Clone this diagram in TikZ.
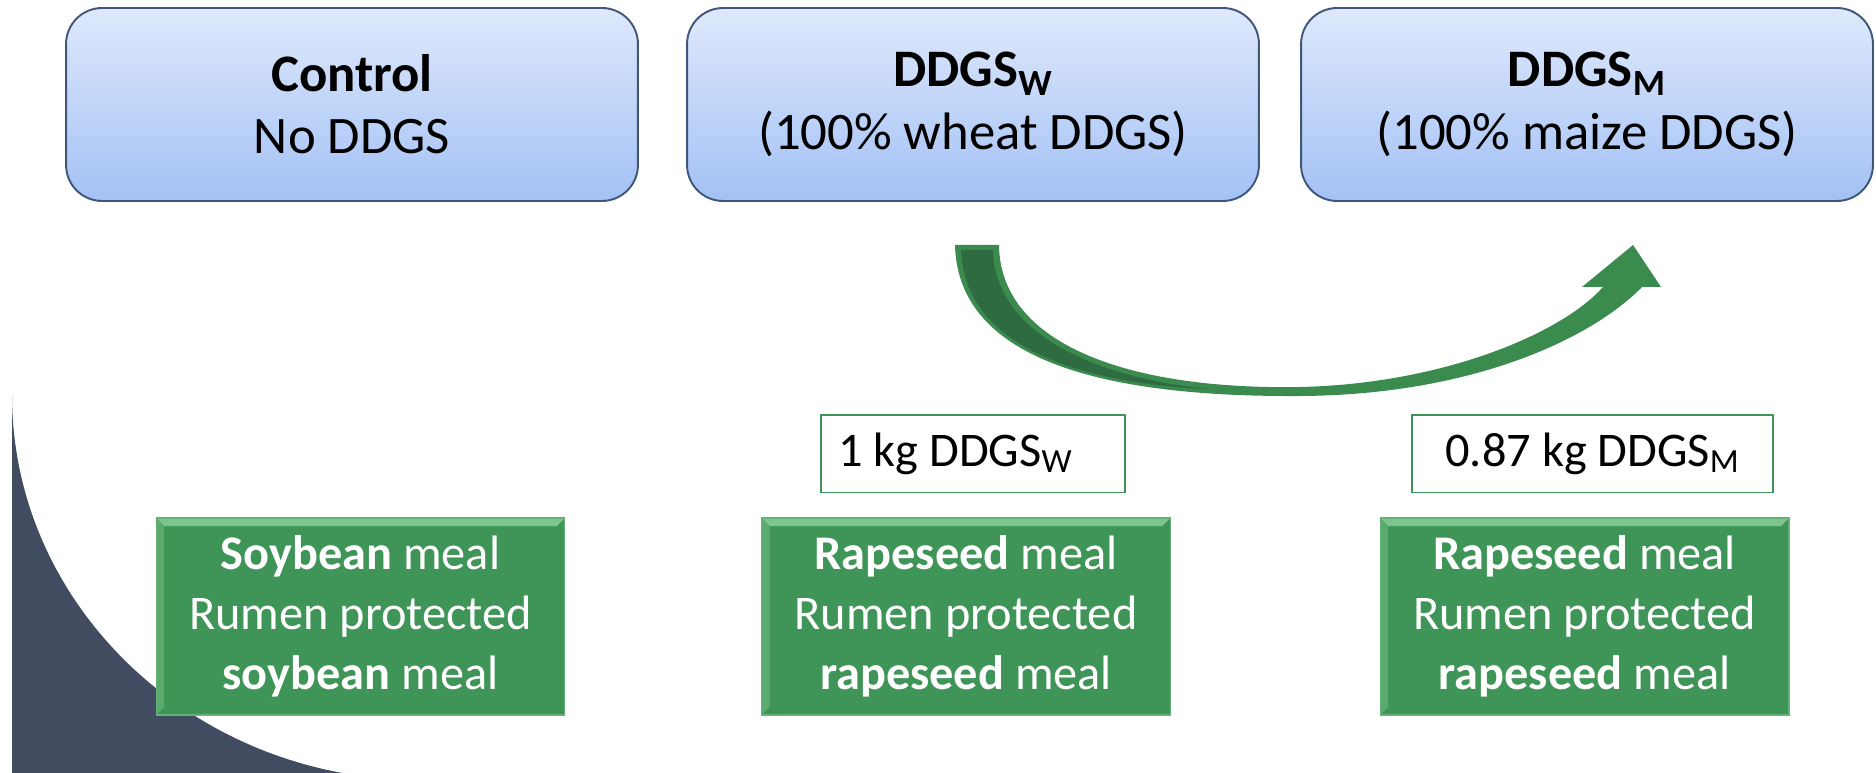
\documentclass[tikz,border=0pt]{standalone}
\usepackage{fontspec}
\setmainfont{Carlito}
\usepackage{xcolor}
\usepackage{tikz}
\usetikzlibrary{positioning}
\definecolor{boxedge}{HTML}{41577A}
\definecolor{boxtop}{HTML}{DFE9FC}
\definecolor{boxbot}{HTML}{A3C1F5}
\definecolor{feedgreen}{HTML}{3F9557}
\definecolor{feedlight}{HTML}{7CC68C}
\definecolor{arrowgreen}{HTML}{3B8B4F}
\definecolor{arrowdark}{HTML}{2F6B40}
\definecolor{slate}{HTML}{414C61}
\newcommand{\bigtxt}{\fontsize{30}{35.5}\selectfont}
\tikzset{
  topbox/.style  = {rectangle, draw=boxedge, line width=1.1pt, top color=boxtop, bottom color=boxbot,
                    rounded corners=0.72cm, minimum width=11.44cm, minimum height=3.86cm,
                    align=center, font=\bigtxt},
  feedbox/.style = {rectangle, draw=feedlight!60!feedgreen, line width=0.6pt, fill=feedgreen,
                    minimum width=8.18cm, minimum height=3.94cm, align=center,
                    text=white, font=\fontsize{27.5}{34}\selectfont,
                    path picture={\fill[feedlight]
                      (path picture bounding box.north west) -- (path picture bounding box.north east)
                      -- ([xshift=-0.16cm,yshift=-0.16cm]path picture bounding box.north east)
                      -- ([xshift=0.16cm,yshift=-0.16cm]path picture bounding box.north west) -- cycle;
                      \fill[feedlight!45!feedgreen]
                      (path picture bounding box.north west) -- (path picture bounding box.south west)
                      -- ([xshift=0.16cm,yshift=0.16cm]path picture bounding box.south west)
                      -- ([xshift=0.16cm,yshift=-0.16cm]path picture bounding box.north west) -- cycle;}},
  kgbox/.style   = {rectangle, draw=feedgreen, line width=0.9pt, fill=white,
                    minimum height=1.56cm, align=center, font=\fontsize{27.5}{34}\selectfont},
}
\begin{document}
\begin{tikzpicture}[x=0.02cm, y=-0.02cm]
    \useasboundingbox (0,0) rectangle (1876,773);

    %% Background swoosh at the lower left
    \fill[slate] (12,395) .. controls (12,607) and (195,780) .. (420,780) -- (12,780) -- cycle;

    %% Diet groups
    \node[topbox] (control) at (352,104.5)  {\textbf{Control}\\No DDGS};
    \node[topbox] (wheat)   at (973,104.5)  {\textbf{DDGS\textsubscript{W}}\\(100\% wheat DDGS)};
    \node[topbox] (maize)   at (1587,104.5) {\textbf{DDGS\textsubscript{M}}\\(100\% maize DDGS)};

    %% Protein sources
    \node[feedbox] (soy)   at (360.5,616.5)  {\textbf{Soybean} meal\\Rumen protected\\\textbf{soybean} meal};
    \node[feedbox] (rapeW) at (966,616.5)    {\textbf{Rapeseed} meal\\Rumen protected\\\textbf{rapeseed} meal};
    \node[feedbox] (rapeM) at (1584.5,616.5) {\textbf{Rapeseed} meal\\Rumen protected\\\textbf{rapeseed} meal};

    %% Amounts
    \node[kgbox, minimum width=6.08cm, above=0.48cm of rapeW, xshift=0.14cm] (kgW) {1 kg DDGS\textsubscript{W}\hspace{0.7cm}};
    \node[kgbox, minimum width=7.22cm, above=0.48cm of rapeM, xshift=0.16cm] (kgM) {0.87 kg DDGS\textsubscript{M}};

    %% Substitution arrow
    \fill[arrowgreen] (955,245) .. controls (958,370) and (1130,397) .. (1300,396)
        .. controls (1470,395) and (1590,340) .. (1642,287) -- (1661,287) -- (1633,245)
        -- (1582,287) -- (1603,287) .. controls (1560,335) and (1440,384) .. (1300,387)
        .. controls (1130,390) and (1000,345) .. (999,245) -- cycle;
    \fill[arrowdark] (961,250) .. controls (965,355) and (1100,385) .. (1210,389)
        .. controls (1090,378) and (994,330) .. (993,250) -- cycle;

  \end{tikzpicture}
\end{document}
